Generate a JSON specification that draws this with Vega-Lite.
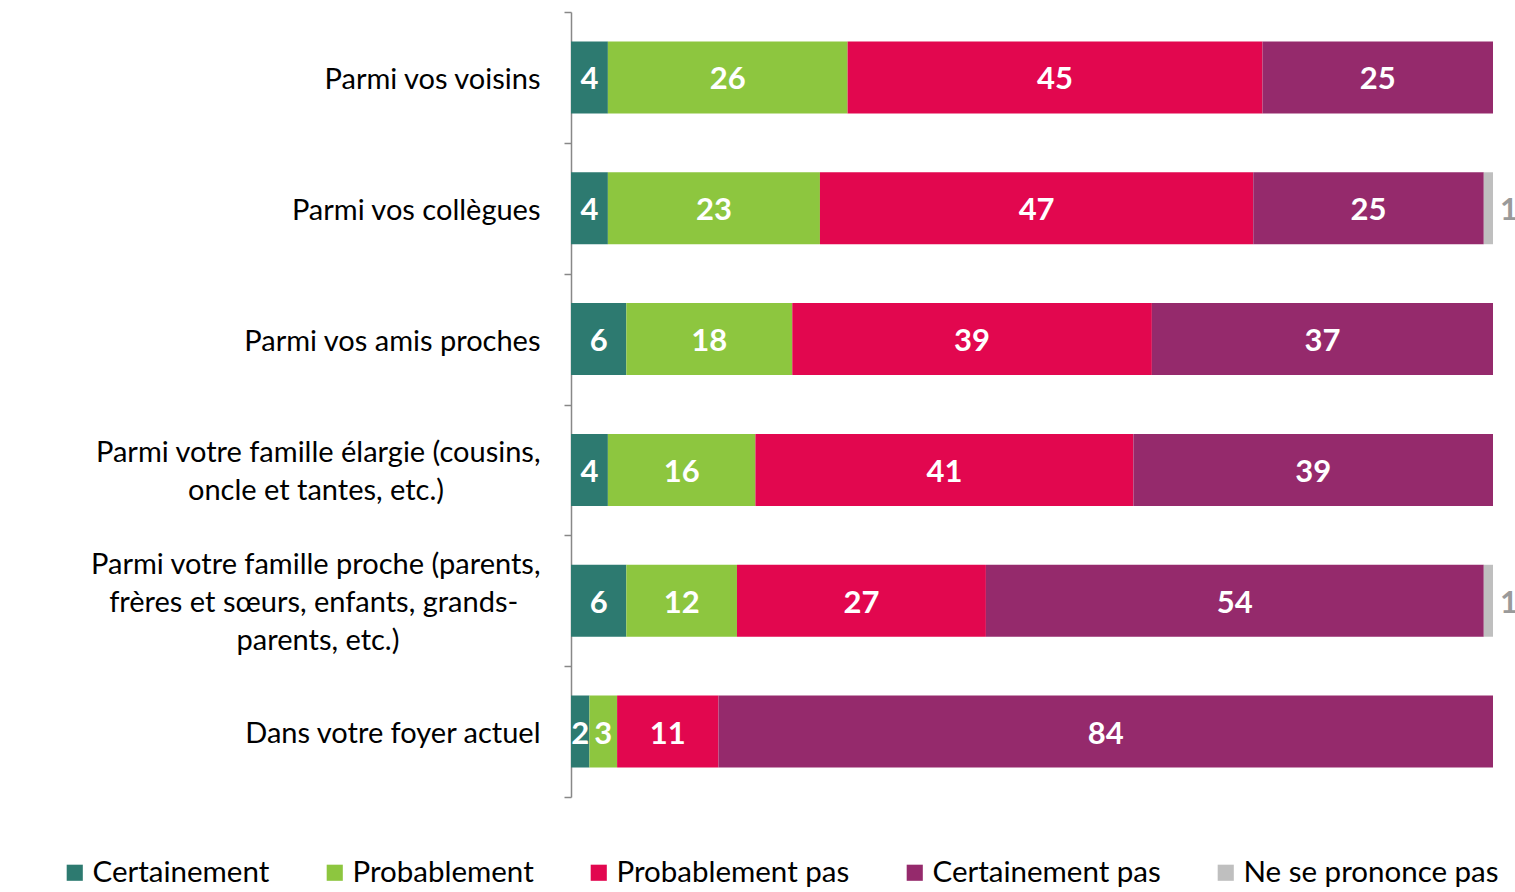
{
  "$schema": "https://vega.github.io/schema/vega-lite/v6.json",
  "width": 922,
  "height": 785,
  "autosize": {"type": "none"},
  "padding": {"left": 571, "top": 12, "right": 22, "bottom": 95},
  "background": "white",
  "config": {"view": {"stroke": null}, "font": "Lato"},
  "data": {
    "values": [
      {"q": "Parmi vos voisins", "r": "Certainement", "v": 4, "k": 1},
      {"q": "Parmi vos voisins", "r": "Probablement", "v": 26, "k": 2},
      {"q": "Parmi vos voisins", "r": "Probablement pas", "v": 45, "k": 3},
      {"q": "Parmi vos voisins", "r": "Certainement pas", "v": 25, "k": 4},
      {"q": "Parmi vos collègues", "r": "Certainement", "v": 4, "k": 1},
      {"q": "Parmi vos collègues", "r": "Probablement", "v": 23, "k": 2},
      {"q": "Parmi vos collègues", "r": "Probablement pas", "v": 47, "k": 3},
      {"q": "Parmi vos collègues", "r": "Certainement pas", "v": 25, "k": 4},
      {"q": "Parmi vos collègues", "r": "Ne se prononce pas", "v": 1, "k": 5},
      {"q": "Parmi vos amis proches", "r": "Certainement", "v": 6, "k": 1},
      {"q": "Parmi vos amis proches", "r": "Probablement", "v": 18, "k": 2},
      {"q": "Parmi vos amis proches", "r": "Probablement pas", "v": 39, "k": 3},
      {"q": "Parmi vos amis proches", "r": "Certainement pas", "v": 37, "k": 4},
      {"q": "Parmi votre famille élargie (cousins, oncle et tantes, etc.)", "r": "Certainement", "v": 4, "k": 1},
      {"q": "Parmi votre famille élargie (cousins, oncle et tantes, etc.)", "r": "Probablement", "v": 16, "k": 2},
      {"q": "Parmi votre famille élargie (cousins, oncle et tantes, etc.)", "r": "Probablement pas", "v": 41, "k": 3},
      {"q": "Parmi votre famille élargie (cousins, oncle et tantes, etc.)", "r": "Certainement pas", "v": 39, "k": 4},
      {"q": "Parmi votre famille proche (parents, frères et sœurs, enfants, grands-parents, etc.)", "r": "Certainement", "v": 6, "k": 1},
      {"q": "Parmi votre famille proche (parents, frères et sœurs, enfants, grands-parents, etc.)", "r": "Probablement", "v": 12, "k": 2},
      {"q": "Parmi votre famille proche (parents, frères et sœurs, enfants, grands-parents, etc.)", "r": "Probablement pas", "v": 27, "k": 3},
      {"q": "Parmi votre famille proche (parents, frères et sœurs, enfants, grands-parents, etc.)", "r": "Certainement pas", "v": 54, "k": 4},
      {"q": "Parmi votre famille proche (parents, frères et sœurs, enfants, grands-parents, etc.)", "r": "Ne se prononce pas", "v": 1, "k": 5},
      {"q": "Dans votre foyer actuel", "r": "Certainement", "v": 2, "k": 1},
      {"q": "Dans votre foyer actuel", "r": "Probablement", "v": 3, "k": 2},
      {"q": "Dans votre foyer actuel", "r": "Probablement pas", "v": 11, "k": 3},
      {"q": "Dans votre foyer actuel", "r": "Certainement pas", "v": 84, "k": 4}
    ]
  },
  "transform": [
    {"stack": "v", "groupby": ["q"], "sort": [{"field": "k", "order": "ascending"}], "as": ["s0", "s1"]},
    {"calculate": "(datum.s0 + datum.s1) / 2", "as": "mid"}
  ],
  "encoding": {
    "y": {
      "field": "q",
      "type": "nominal",
      "sort": null,
      "scale": {"paddingInner": 0, "paddingOuter": 0},
      "axis": {
        "title": null,
        "labelExpr": "indexof(datum.label, 'élargie') >= 0 ? ['\u200b', 'Parmi votre famille élargie (cousins,', '\u200b', 'oncle et tantes, etc.)\u00a0\u00a0\u00a0\u00a0\u00a0\u00a0\u00a0\u00a0\u00a0\u00a0\u00a0\u00a0\u00a0\u200b'] : indexof(datum.label, 'famille proche') >= 0 ? ['Parmi votre famille proche (parents,', '\u200b', 'frères et sœurs, enfants, grands-\u00a0\u00a0\u00a0\u200b', '\u200b', 'parents, etc.)\u00a0\u00a0\u00a0\u00a0\u00a0\u00a0\u00a0\u00a0\u00a0\u00a0\u00a0\u00a0\u00a0\u00a0\u00a0\u00a0\u00a0\u00a0\u00a0\u200b'] : ['\u200b', '\u200b', datum.label]",
        "labelAlign": "right",
        "labelPadding": 24,
        "labelOffset": -36,
        "labelFont": "Lato",
        "labelFontSize": 29,
        "labelColor": "#000000",
        "labelLimit": 0,
        "labelLineHeight": 19,
        "domainColor": "#888888",
        "domainWidth": 1.5,
        "tickColor": "#888888",
        "tickWidth": 1.5,
        "tickSize": 7,
        "tickBand": "extent",
        "grid": false
      }
    }
  },
  "layer": [
    {
      "mark": {"type": "bar", "height": {"band": 0.55}},
      "encoding": {
        "x": {"field": "s0", "type": "quantitative", "scale": {"domain": [0, 100], "nice": false}, "axis": null},
        "x2": {"field": "s1"},
        "color": {
          "field": "r",
          "type": "nominal",
          "scale": {
            "domain": ["Certainement", "Probablement", "Probablement pas", "Certainement pas", "Ne se prononce pas"],
            "range": ["#2D7A70", "#8DC63F", "#E2074F", "#952A6C", "#BFBFBF"]
          },
          "legend": {
            "title": null,
            "orient": "none",
            "legendX": -511,
            "legendY": 846,
            "direction": "horizontal",
            "gridAlign": "none",
            "columnPadding": 50,
            "symbolType": "square",
            "symbolSize": 260,
            "symbolStrokeWidth": 0,
            "labelOffset": 3,
            "labelFont": "Lato",
            "labelFontSize": 29.5,
            "labelColor": "#000000",
            "labelLimit": 0
          }
        }
      }
    },
    {
      "transform": [{"filter": "datum.r != 'Ne se prononce pas'"}],
      "mark": {"type": "text", "color": "white", "font": "Lato", "fontWeight": "bold", "fontSize": 31, "baseline": "middle", "align": "center", "dy": 3},
      "encoding": {
        "x": {"field": "mid", "type": "quantitative"},
        "text": {"field": "v", "type": "quantitative"}
      }
    },
    {
      "transform": [{"filter": "datum.r == 'Ne se prononce pas'"}],
      "mark": {"type": "text", "color": "#9A9A9A", "font": "Lato", "fontWeight": "bold", "fontSize": 31, "baseline": "middle", "align": "left", "dx": 7, "dy": 3},
      "encoding": {
        "x": {"field": "s1", "type": "quantitative"},
        "text": {"field": "v", "type": "quantitative"}
      }
    }
  ]
}
